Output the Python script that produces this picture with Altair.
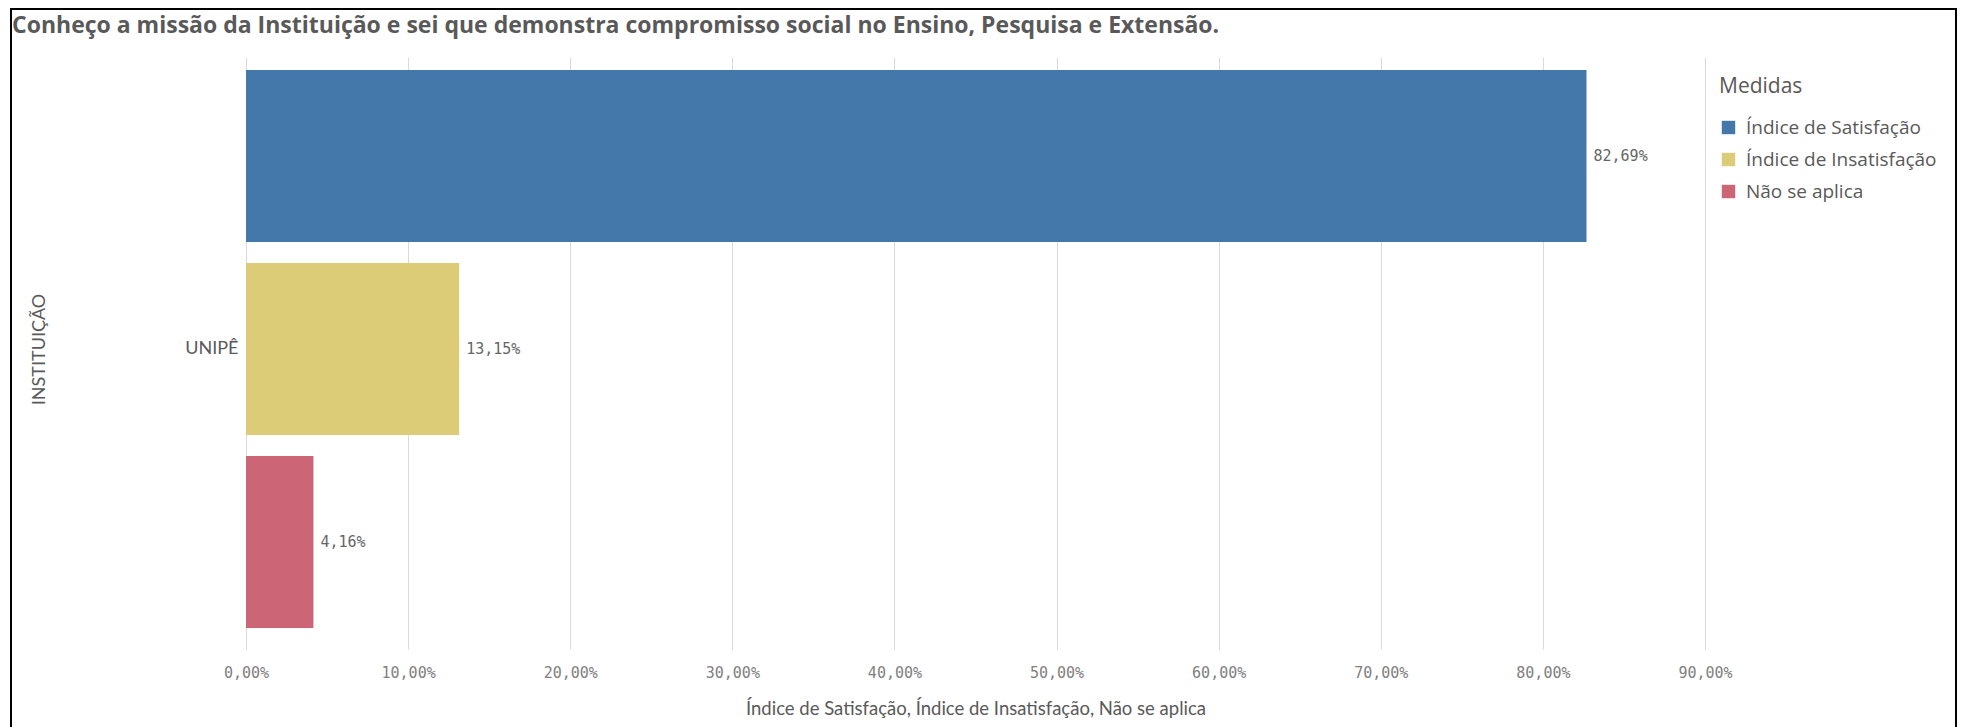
import altair as alt
import pandas as pd

title_text = "Conheço a missão da Instituição e sei que demonstra compromisso social no Ensino, Pesquisa e Extensão."
instituicao = ["UNIPÊ", "UNIPÊ", "UNIPÊ"]
medidas = ["Índice de Satisfação", "Índice de Insatisfação", "Não se aplica"]
valores = [0.8269, 0.1315, 0.0416]
cores = ["#4477AA", "#DDCC77", "#CC6677"]
x_ticks = [0.0, 0.1, 0.2, 0.3, 0.4, 0.5, 0.6, 0.7, 0.8, 0.9]

df = pd.DataFrame({"INSTITUIÇÃO": instituicao, "Medidas": medidas, "valor": valores})

base = alt.Chart(df).transform_calculate(
    rotulo="replace(format(datum.valor, '.2%'), '.', ',')"
)

bars = base.mark_bar().encode(
    x=alt.X(
        "valor:Q",
        scale=alt.Scale(domain=[0, 0.9], nice=False),
        axis=alt.Axis(
            values=x_ticks,
            labelExpr="replace(format(datum.value, '.2%'), '.', ',')",
            title="Índice de Satisfação, Índice de Insatisfação, Não se aplica",
            grid=True,
            gridColor="#d9d9d9",
            domain=False,
            ticks=True,
            tickSize=8,
            tickColor="#d9d9d9",
            labelFlush=False,
            labelOverlap=False,
            labelFont="DejaVu Sans Mono",
            labelFontSize=15,
            labelColor="#808080",
            labelPadding=16,
            titleFont="Lato",
            titleFontSize=18.5,
            titleFontWeight="normal",
            titleColor="#595959",
            titlePadding=19,
        ),
    ),
    y=alt.Y(
        "INSTITUIÇÃO:N",
        scale=alt.Scale(paddingInner=0, paddingOuter=0),
        axis=alt.Axis(
            domain=False,
            ticks=False,
            grid=False,
            labelFont="Lato",
            labelFontSize=18,
            labelColor="#595959",
            labelPadding=8,
            titleFont="Lato",
            titleFontSize=18,
            titleFontWeight="normal",
            titleColor="#595959",
            titlePadding=136,
        ),
    ),
    yOffset=alt.YOffset(
        "Medidas:N",
        sort=medidas,
        scale=alt.Scale(paddingInner=0.11, paddingOuter=0.068),
    ),
    color=alt.Color(
        "Medidas:N",
        sort=medidas,
        scale=alt.Scale(domain=medidas, range=cores),
        legend=alt.Legend(
            orient="none",
            legendX=1473,
            legendY=19,
            title="Medidas",
            titleFont="Open Sans",
            titleFontSize=21,
            titleFontWeight="normal",
            titleColor="#595959",
            titlePadding=21,
            labelFont="Open Sans",
            labelFontSize=19,
            labelColor="#595959",
            labelLimit=0,
            symbolType="square",
            symbolSize=180,
            symbolStrokeWidth=0,
            rowPadding=12,
            labelOffset=8,
        ),
    ),
)

labels = base.mark_text(
    align="left", baseline="middle", dx=7, font="DejaVu Sans Mono", fontSize=15, color="#666666"
).encode(
    x="valor:Q",
    y="INSTITUIÇÃO:N",
    yOffset=alt.YOffset("Medidas:N", sort=medidas),
    text="rotulo:N",
)

frame = alt.Chart(pd.DataFrame({"f": [0]})).mark_rect(
    fill=None, stroke="black", strokeWidth=2
).encode(
    x=alt.value(-235), x2=alt.value(1710), y=alt.value(-48), y2=alt.value(684)
)

chart = alt.layer(frame, bars, labels).properties(
    width=1459,
    height=584,
    padding={"left": 2, "top": 0, "right": 0, "bottom": 0},
    title=alt.TitleParams(
        title_text,
        anchor="start",
        frame="group",
        dx=-234,
        dy=53,
        offset=23,
        font="Open Sans",
        fontSize=23,
        fontWeight="bold",
        color="#595959",
    ),
).configure_view(stroke=None)

chart.save("out.html", embed_options={"renderer": "svg", "actions": False})
